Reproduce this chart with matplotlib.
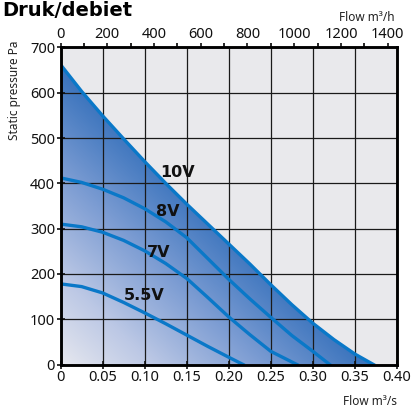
import numpy as np
import matplotlib
matplotlib.use("Agg")
from matplotlib import pyplot as plt
from matplotlib.colors import LinearSegmentedColormap
from matplotlib.patches import Polygon

plt.rcParams['font.family'] = ['Noto Sans', 'DejaVu Sans']

# Fan curves: flow m3/s, static pressure Pa
q_10v = [0, 0.025, 0.05, 0.075, 0.10, 0.125, 0.15, 0.175, 0.20, 0.225, 0.25, 0.275, 0.30, 0.325, 0.35, 0.372]
p_10v = [662, 603, 549, 498, 448, 400, 354, 310, 266, 222, 176, 132, 91, 55, 23, 0]

q_8v = [0, 0.025, 0.05, 0.075, 0.10, 0.125, 0.15, 0.175, 0.20, 0.225, 0.25, 0.275, 0.30, 0.32]
p_8v = [412, 402, 387, 368, 344, 315, 280, 234, 188, 145, 104, 64, 29, 0]

q_7v = [0, 0.025, 0.05, 0.075, 0.10, 0.125, 0.15, 0.175, 0.20, 0.225, 0.25, 0.281]
p_7v = [310, 304, 292, 274, 251, 223, 190, 148, 105, 66, 29, 0]

q_55v = [0, 0.025, 0.05, 0.075, 0.10, 0.125, 0.15, 0.175, 0.20, 0.217]
p_55v = [178, 172, 158, 137, 114, 90, 65, 40, 16, 0]

curve_labels = ['10V', '8V', '7V', '5.5V']
label_q = [0.139, 0.127, 0.117, 0.099]
label_p = [423, 337, 248, 153]

x_ticks = [0, 0.05, 0.10, 0.15, 0.20, 0.25, 0.30, 0.35, 0.40]
x_ticklabels = ['0', '0.05', '0.10', '0.15', '0.20', '0.25', '0.30', '0.35', '0.40']
y_ticks = [0, 100, 200, 300, 400, 500, 600, 700]
top_labels = [0, 200, 400, 600, 800, 1000, 1200, 1400]  # m3/h

line_col = '#0a78c8'
bold_font = ['DejaVu Sans']

fig = plt.figure(figsize=(4.12, 4.07), dpi=100)
ax = fig.add_axes([0.147, 0.1044, 0.8166, 0.7791])
ax.set_facecolor('#e9e9ec')
ax.set_xlim(0, 0.40)
ax.set_ylim(0, 700)

# gradient fill under the 10V curve
cmap = LinearSegmentedColormap.from_list('fan', ['#e8e9ef', '#bcc8e5', '#7d9dd3', '#3872bc'])
gx, gy = np.meshgrid(np.linspace(0, 0.40, 400), np.linspace(0, 700, 400))
grad = np.clip(gx / 0.372 + gy / 662, 0, 1) ** 0.9
im = ax.imshow(grad, extent=[0, 0.40, 0, 700], origin='lower', cmap=cmap,
               aspect='auto', zorder=1, vmin=0, vmax=1)
poly = Polygon(list(zip(q_10v, p_10v)) + [(0, 0)], closed=True, transform=ax.transData)
im.set_clip_path(poly)

ax.set_xticks(x_ticks)
ax.set_xticklabels(x_ticklabels)
ax.set_yticks(y_ticks)
ax.grid(True, color='#1a1a1a', linewidth=0.9, zorder=2)
ax.set_axisbelow(False)

for q, p in [(q_10v, p_10v), (q_8v, p_8v), (q_7v, p_7v), (q_55v, p_55v)]:
    ax.plot(q, p, color=line_col, linewidth=2.4, solid_joinstyle='round', zorder=3)

for txt, q, p in zip(curve_labels, label_q, label_p):
    ax.text(q, p, txt, fontsize=11.5, fontweight='bold', family=bold_font,
            ha='center', va='center', color='#111111', zorder=4)

for s in ax.spines.values():
    s.set_linewidth(1.8)
    s.set_zorder(5)
ax.tick_params(direction='inout', length=6, width=1.2, labelsize=10.5, colors='#111111', pad=1)

# top axis in m3/h
top = ax.twiny()
top.set_xlim(0, 0.40 * 3600)
top.set_xticks(top_labels)
top.set_xticks(np.arange(0, 1401, 100), minor=True)
top.tick_params(which='major', direction='out', length=3, width=1.2, labelsize=10.5,
                colors='#111111', pad=1)
top.tick_params(which='minor', direction='out', length=3, width=1.2)
for s in top.spines.values():
    s.set_linewidth(1.8)

fig.text(0.005, 0.998, 'Druk/debiet', fontsize=14, fontweight='bold', family=bold_font,
         ha='left', va='top')
fig.text(395 / 412, 1 - 21 / 407, 'Flow m³/h', fontsize=8.5, ha='right', va='baseline', color='#222222')
fig.text(397 / 412, 1 - 405 / 407, 'Flow m³/s', fontsize=8.5, ha='right', va='baseline', color='#222222')
fig.text(15 / 412, 1 - 40 / 407, 'Static pressure Pa', fontsize=8.5, rotation=90,
         ha='center', va='top', color='#222222')

fig.savefig('out.png', dpi=100)
